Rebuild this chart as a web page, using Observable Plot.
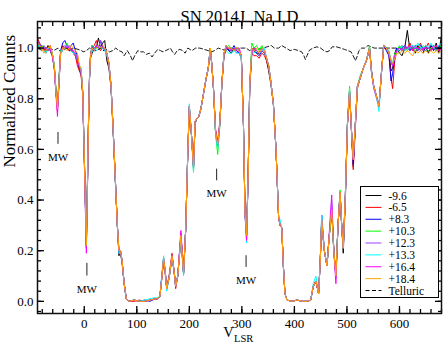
<!DOCTYPE html>
<html><head><meta charset="utf-8">
<script src="https://cdn.jsdelivr.net/npm/d3@7"></script>
<script src="https://cdn.jsdelivr.net/npm/@observablehq/plot@0.6"></script>
<style>
body{margin:0;background:#fff;}
#wrap{position:relative;width:443px;height:346px;font-family:"Liberation Serif",serif;}
#legend{position:absolute;left:360px;top:186px;width:79px;height:112px;box-sizing:border-box;border:1px solid #000;background:#fff;}
</style></head><body><div id="wrap"><div id="legend"></div></div>
<script>
const velocity = [-89,-85,-81,-77,-73,-69,-65,-61,-57,-54,
-51,-48,-45,-41,-37,-33,-29,-25,-21,-17,
-13,-9,-6,-3,0,2,4,6,8,10,
12,15,19,23,27,31,35,39,43,47,
51,55,59,63,66,69,72,76,80,85,
95,105,115,125,135,140,144,148,151,154,
157,162,167,171,174,178,184,189,193,197,
200,204,208,211,214,218,222,227,232,236,
240,243,246,250,254,258,262,266,270,275,
280,285,290,295,299,303,306,309,312,315,
319,323,328,333,338,343,347,351,355,360,
365,370,373,376,379,382,386,395,405,415,
425,431,436,441,446,449,452,457,462,466,
471,475,479,483,487,490,493,497,501,505,
509,512,516,520,525,531,537,543,547,551,
555,561,566,570,575,580,584,587,591,595,
600,605,610,615,620,625,630,635,640,645,
650,655,660,665,670,675,680];

const epochs = ["-9.6","-6.5","+8.3","+10.3","+12.3","+13.3","+16.4","+18.4"];
const epochColors = ["#000000","#ff0000","#0000ff","#00ff00","#a040ff","#00ffff","#ff00ff","#ffa500"];

const fluxM96 = [1.02,1.00,1.01,1.00,0.99,1.01,0.99,0.97,0.92,0.83,
0.77,0.88,0.99,1.00,1.00,1.00,0.99,0.99,0.98,0.97,
0.95,0.91,0.90,0.82,0.58,0.41,0.23,0.46,0.70,0.88,
0.96,0.98,1.00,1.00,1.04,1.00,1.02,1.03,0.95,0.92,
0.84,0.67,0.48,0.30,0.18,0.19,0.15,0.07,0.01,0.00,
0.005,0.00,0.00,0.005,0.01,0.01,0.02,0.10,0.16,0.12,
0.05,0.10,0.18,0.12,0.06,0.10,0.26,0.11,0.28,0.58,
0.76,0.66,0.53,0.70,0.72,0.73,0.76,0.82,0.88,0.92,
1.00,0.93,0.84,0.66,0.61,0.70,0.86,0.97,1.00,0.99,
0.98,1.00,0.99,0.98,0.96,0.70,0.35,0.26,0.50,0.85,
1.00,0.99,0.98,0.98,1.00,0.99,0.95,0.91,0.86,0.78,
0.60,0.33,0.30,0.29,0.14,0.03,0.005,0.00,0.005,0.00,
0.00,0.005,0.06,0.08,0.03,0.15,0.32,0.20,0.14,0.25,
0.36,0.20,0.10,0.30,0.43,0.30,0.19,0.40,0.70,0.83,
0.66,0.53,0.70,0.85,0.88,0.92,0.95,1.00,0.91,0.85,
0.82,0.77,0.91,1.01,1.00,0.98,0.91,0.92,0.98,1.00,
0.98,0.97,1.00,1.07,0.99,1.00,0.98,1.01,0.99,0.98,
1.01,0.98,1.01,0.99,1.02,0.98,1.05];

const fluxM65 = [1.04,1.02,1.00,1.00,0.98,1.00,1.01,0.98,0.93,0.84,
0.75,0.87,0.98,1.01,1.00,1.01,0.99,1.00,0.98,0.97,
0.93,0.91,0.89,0.82,0.57,0.40,0.22,0.45,0.70,0.89,
0.98,1.00,1.01,1.03,1.00,0.99,1.01,1.00,0.97,0.93,
0.85,0.68,0.49,0.30,0.20,0.20,0.16,0.07,0.01,0.00,
0.00,0.005,0.00,0.005,0.01,0.01,0.02,0.10,0.16,0.11,
0.05,0.11,0.19,0.12,0.05,0.10,0.25,0.11,0.28,0.58,
0.76,0.66,0.53,0.71,0.72,0.73,0.76,0.82,0.88,0.92,
0.99,0.93,0.84,0.68,0.63,0.71,0.86,0.97,0.99,1.00,
1.00,0.99,1.00,0.99,0.97,0.70,0.35,0.26,0.50,0.84,
0.98,0.97,0.97,0.96,0.98,0.97,0.95,0.92,0.87,0.78,
0.60,0.33,0.30,0.29,0.14,0.03,0.005,0.00,0.005,0.00,
0.00,0.005,0.06,0.08,0.03,0.15,0.31,0.20,0.14,0.25,
0.36,0.21,0.10,0.30,0.42,0.30,0.21,0.42,0.70,0.82,
0.66,0.52,0.68,0.84,0.88,0.92,0.95,1.00,0.90,0.85,
0.82,0.77,0.91,1.00,1.00,0.97,0.88,0.84,0.95,0.99,
1.00,1.01,0.99,1.00,1.02,0.99,1.01,1.00,1.02,0.99,
1.00,1.02,0.99,1.00,1.01,0.99,1.00];

const fluxP83 = [1.02,1.01,1.01,1.00,1.00,0.99,1.00,0.98,0.93,0.83,
0.76,0.87,0.99,1.02,1.03,1.01,1.00,1.01,1.02,0.99,
0.97,0.92,0.91,0.83,0.58,0.40,0.22,0.45,0.70,0.88,
0.97,1.01,0.99,1.01,1.00,1.03,1.00,0.99,0.98,0.94,
0.85,0.68,0.49,0.30,0.19,0.20,0.16,0.07,0.01,0.00,
0.005,0.00,0.005,0.00,0.01,0.01,0.02,0.11,0.17,0.12,
0.05,0.10,0.17,0.12,0.06,0.10,0.26,0.11,0.28,0.58,
0.77,0.66,0.53,0.71,0.72,0.73,0.76,0.82,0.88,0.92,
1.00,0.93,0.84,0.67,0.62,0.70,0.86,0.98,1.01,0.99,
0.99,1.01,0.99,0.98,0.97,0.70,0.35,0.26,0.50,0.85,
0.99,1.00,0.98,0.97,0.99,0.98,0.96,0.93,0.87,0.78,
0.60,0.33,0.30,0.29,0.14,0.03,0.005,0.00,0.005,0.00,
0.00,0.005,0.06,0.08,0.03,0.15,0.34,0.20,0.14,0.25,
0.36,0.20,0.10,0.30,0.43,0.30,0.21,0.42,0.70,0.83,
0.66,0.54,0.70,0.85,0.88,0.92,0.95,1.00,0.90,0.85,
0.82,0.77,0.91,1.01,0.99,0.97,0.87,0.90,0.97,1.00,
0.99,1.00,1.01,1.00,0.99,1.01,1.00,0.99,1.01,1.00,
0.99,1.00,1.01,1.00,0.99,1.01,1.00];

const fluxP103 = [1.03,1.00,1.01,1.00,1.00,0.99,1.00,0.98,0.93,0.84,
0.77,0.88,0.99,1.00,1.00,1.02,1.00,0.99,0.98,0.98,
0.96,0.93,0.92,0.83,0.58,0.40,0.22,0.45,0.70,0.88,
0.97,1.01,1.00,1.00,1.01,1.00,1.00,1.00,0.98,0.94,
0.85,0.68,0.49,0.30,0.20,0.20,0.16,0.07,0.01,0.00,
0.005,0.00,0.00,0.005,0.01,0.015,0.02,0.10,0.17,0.12,
0.05,0.10,0.18,0.12,0.06,0.10,0.26,0.11,0.28,0.58,
0.77,0.66,0.51,0.71,0.72,0.73,0.76,0.82,0.88,0.92,
1.00,0.93,0.84,0.66,0.58,0.69,0.86,0.98,1.00,1.01,
1.00,0.99,1.00,0.99,0.97,0.70,0.35,0.26,0.50,0.86,
1.02,1.00,1.01,0.99,1.01,0.99,0.96,0.93,0.87,0.78,
0.60,0.33,0.30,0.29,0.14,0.03,0.005,0.00,0.005,0.00,
0.00,0.005,0.06,0.08,0.03,0.15,0.32,0.20,0.14,0.25,
0.36,0.20,0.10,0.30,0.44,0.30,0.21,0.42,0.71,0.85,
0.66,0.57,0.70,0.85,0.89,0.92,0.95,1.01,0.90,0.85,
0.82,0.77,0.91,1.01,1.00,0.99,0.95,0.94,0.98,0.99,
1.01,0.99,1.00,0.99,1.01,1.00,0.99,1.00,1.00,1.01,
1.00,0.99,1.00,1.01,0.99,1.00,1.01];

const fluxP123 = [1.01,1.02,0.99,1.01,1.00,1.00,0.99,0.98,0.92,0.83,
0.76,0.87,0.98,1.00,1.01,1.00,1.01,1.00,0.99,0.97,
0.95,0.93,0.91,0.83,0.58,0.40,0.21,0.45,0.70,0.88,
0.97,1.00,0.99,1.01,1.00,1.03,1.01,1.00,0.98,0.94,
0.85,0.68,0.49,0.30,0.20,0.20,0.16,0.07,0.01,0.00,
0.005,0.00,0.00,0.005,0.01,0.01,0.02,0.10,0.17,0.12,
0.05,0.10,0.18,0.12,0.06,0.10,0.27,0.11,0.28,0.58,
0.77,0.66,0.52,0.71,0.72,0.73,0.76,0.82,0.88,0.92,
1.00,0.93,0.84,0.67,0.61,0.70,0.86,0.98,1.00,1.00,
0.99,1.00,0.98,0.99,0.97,0.70,0.35,0.25,0.50,0.85,
0.99,1.00,0.99,0.98,1.00,0.99,0.96,0.93,0.87,0.78,
0.60,0.33,0.30,0.29,0.14,0.03,0.005,0.00,0.005,0.00,
0.00,0.005,0.06,0.08,0.03,0.15,0.32,0.20,0.14,0.25,
0.38,0.20,0.09,0.30,0.43,0.30,0.21,0.42,0.70,0.83,
0.66,0.56,0.70,0.85,0.88,0.92,0.95,1.00,0.90,0.84,
0.81,0.77,0.91,1.01,1.00,0.98,0.94,0.93,0.97,0.99,
1.00,0.99,1.01,1.00,0.99,1.00,1.01,0.99,1.00,0.99,
1.01,1.00,0.99,1.00,1.01,1.00,0.99];

const fluxP133 = [1.02,1.00,1.00,0.99,0.98,1.00,1.00,0.98,0.93,0.83,
0.76,0.87,0.98,0.99,1.00,1.01,1.00,0.99,0.98,0.98,
0.96,0.93,0.91,0.83,0.57,0.39,0.21,0.44,0.70,0.88,
0.96,0.99,1.00,0.99,1.00,1.01,1.00,0.99,0.97,0.94,
0.85,0.68,0.49,0.30,0.19,0.20,0.16,0.07,0.01,0.00,
0.005,0.00,0.005,0.01,0.015,0.01,0.02,0.11,0.18,0.12,
0.04,0.10,0.17,0.12,0.06,0.10,0.25,0.10,0.28,0.59,
0.78,0.66,0.51,0.71,0.72,0.73,0.76,0.82,0.88,0.92,
1.00,0.93,0.84,0.66,0.60,0.70,0.86,0.98,0.99,0.98,
0.98,0.99,0.98,0.98,0.96,0.70,0.34,0.23,0.50,0.85,
0.99,0.98,0.99,0.98,0.99,1.00,0.96,0.93,0.87,0.78,
0.60,0.34,0.32,0.29,0.14,0.03,0.005,0.00,0.005,0.00,
0.00,0.005,0.07,0.10,0.03,0.15,0.34,0.20,0.14,0.25,
0.40,0.20,0.10,0.30,0.43,0.30,0.21,0.42,0.70,0.84,
0.66,0.57,0.70,0.85,0.88,0.92,0.95,1.00,0.90,0.85,
0.82,0.75,0.91,1.01,1.00,0.98,0.95,0.93,0.97,0.98,
1.00,1.01,0.99,1.00,1.00,1.01,1.00,1.02,1.00,1.00,
1.01,1.00,1.02,1.00,1.00,1.01,1.02];

const fluxP164 = [1.03,1.01,1.00,1.00,1.00,0.99,1.00,0.97,0.92,0.82,
0.73,0.86,0.98,1.00,1.00,1.01,1.00,0.99,0.99,0.98,
0.96,0.92,0.91,0.82,0.56,0.37,0.19,0.43,0.69,0.88,
0.97,1.00,1.00,1.01,1.00,1.01,1.00,1.00,0.98,0.94,
0.85,0.68,0.49,0.30,0.20,0.20,0.16,0.07,0.01,0.00,
0.005,0.00,0.00,0.005,0.01,0.01,0.02,0.10,0.17,0.12,
0.05,0.10,0.18,0.12,0.06,0.10,0.28,0.11,0.28,0.58,
0.77,0.66,0.53,0.71,0.72,0.73,0.76,0.82,0.88,0.92,
1.00,0.93,0.84,0.67,0.62,0.70,0.86,0.98,1.00,1.00,
0.99,1.00,0.99,1.00,0.97,0.70,0.34,0.24,0.50,0.85,
0.98,1.00,0.99,0.98,1.00,0.99,0.96,0.93,0.87,0.78,
0.60,0.33,0.30,0.29,0.14,0.03,0.005,0.00,0.005,0.00,
0.00,0.005,0.06,0.08,0.03,0.15,0.32,0.20,0.14,0.26,
0.42,0.20,0.07,0.30,0.43,0.30,0.21,0.42,0.70,0.83,
0.66,0.56,0.70,0.85,0.88,0.92,0.95,1.00,0.90,0.85,
0.82,0.77,0.91,1.01,1.00,0.98,0.95,0.93,0.97,0.99,
1.00,0.99,1.00,1.00,1.01,0.99,1.00,1.00,0.99,1.00,
1.00,1.00,0.99,1.01,1.00,0.99,1.00];

const fluxP184 = [1.02,1.01,1.00,0.98,0.99,1.00,1.01,0.98,0.93,0.83,
0.76,0.87,0.98,1.00,1.00,0.99,1.00,1.01,1.00,0.99,
0.98,0.93,0.92,0.83,0.58,0.40,0.22,0.45,0.70,0.88,
0.97,1.00,0.99,1.00,1.01,1.00,1.01,1.00,0.98,0.94,
0.85,0.68,0.49,0.30,0.20,0.20,0.16,0.07,0.01,0.00,
0.005,0.00,0.00,0.005,0.01,0.01,0.02,0.10,0.17,0.12,
0.05,0.10,0.18,0.12,0.06,0.10,0.26,0.11,0.28,0.58,
0.77,0.66,0.53,0.71,0.72,0.73,0.76,0.82,0.88,0.92,
1.00,0.93,0.84,0.67,0.62,0.70,0.86,0.98,1.01,1.00,
1.00,0.99,1.00,0.99,0.97,0.70,0.35,0.26,0.50,0.85,
1.00,0.99,1.00,0.98,1.00,0.99,0.96,0.93,0.87,0.78,
0.60,0.33,0.30,0.29,0.14,0.03,0.005,0.00,0.005,0.00,
0.00,0.005,0.06,0.08,0.03,0.15,0.32,0.20,0.14,0.25,
0.36,0.20,0.10,0.30,0.43,0.30,0.21,0.42,0.70,0.83,
0.66,0.56,0.70,0.85,0.88,0.92,0.95,1.00,0.90,0.85,
0.82,0.77,0.91,1.01,1.00,0.98,0.95,0.94,0.96,0.98,
0.98,0.99,0.98,0.99,0.98,0.97,0.99,0.98,0.99,0.98,
0.99,0.98,0.99,0.98,0.99,0.98,0.99];

const telluricVelocity = [-89,-80,-72,-65,-58,-50,-45,-40,-34,-28,-20,-12,-5,-2,4,10,18,25,30,36,42,48,54,60,66,72,76,82,88,92,96,102,108,113,118,124,129,134,140,145,150,155,160,164,168,172,177,182,187,192,197,205,212,220,228,236,242,248,255,262,270,278,285,292,300,308,315,322,330,340,348,356,362,370,376,384,392,400,408,414,418,421,424,428,435,443,450,456,462,467,472,480,488,495,502,508,513,516,519,523,528,534,540,546,552,560,580,600,620,640,660,680];
const telluricFlux = [1.00,0.99,1.00,1.00,0.99,1.00,0.985,0.99,1.00,0.99,1.00,0.995,0.99,0.985,0.99,1.00,0.99,0.99,1.00,0.99,0.995,0.985,0.99,1.00,0.99,0.985,0.97,0.99,0.97,0.95,0.97,0.99,0.985,0.985,0.975,0.98,0.965,0.98,0.995,0.99,0.985,0.99,0.995,1.00,0.985,0.975,0.99,0.995,0.99,0.98,1.00,0.99,1.00,1.00,0.995,0.99,0.985,0.99,1.00,0.995,0.99,1.00,0.995,1.00,1.00,1.00,0.99,1.00,0.995,1.00,1.005,1.01,1.00,1.00,1.01,1.00,0.99,0.995,0.99,0.985,0.97,0.955,0.97,0.99,1.00,1.005,1.00,0.99,0.985,0.99,1.005,1.005,1.00,0.995,0.99,0.985,0.965,0.95,0.965,0.99,1.00,1.00,1.01,1.005,1.00,1.00,1.00,1.00,1.00,1.00,1.00,1.00];

const xMajorTicks = [0,100,200,300,400,500,600];
const xMinorTicks = [-80,-60,-40,-20,0,20,40,60,80,100,120,140,160,180,200,220,240,260,280,300,320,340,360,380,400,420,440,460,480,500,520,540,560,580,600,620,640,660,680];
const yMajorTicks = [0,0.2,0.4,0.6,0.8,1.0];
const yMinorTicks = [-0.04,0,0.04,0.08,0.12,0.16,0.2,0.24,0.28,0.32,0.36,0.4,0.44,0.48,0.52,0.56,0.6,0.64,0.68,0.72,0.76,0.8,0.84,0.88,0.92,0.96,1.0,1.04,1.08];

const mwVelocity = [-50, 5, 252, 308];
const mwTickLow = [0.62, 0.10, 0.476, 0.134];
const mwTickHigh = [0.667, 0.15, 0.522, 0.18];
const mwLabelY = [0.57, 0.046, 0.427, 0.082];

const titleText = "SN 2014J\u00a0 Na I D";
const yLabel = "Normalized Counts";
const legendLabels = [...epochs, "Telluric"];

const seriesList = [fluxM96, fluxM65, fluxP83, fluxP103, fluxP123, fluxP133, fluxP164, fluxP184];
const rows = [];
seriesList.forEach((s, k) => {
  if (s.length !== velocity.length) console.error("length mismatch", epochs[k], s.length);
  s.forEach((f, i) => rows.push({v: velocity[i], f, epoch: epochs[k]}));
});
const tellRows = telluricVelocity.map((v, i) => ({v, f: telluricFlux[i]}));
const mwRows = mwVelocity.map((v, i) => ({v, lo: mwTickLow[i], hi: mwTickHigh[i], ly: mwLabelY[i], t: "MW"}));

const font = "Liberation Serif";
const plot = Plot.plot({
  width: 443, height: 346,
  marginLeft: 37, marginRight: 2, marginTop: 21, marginBottom: 33,
  style: {fontFamily: font, fontSize: "13px", color: "#000", background: "#fff"},
  x: {domain: [-89, 680]},
  y: {domain: [-0.048, 1.105]},
  color: {domain: epochs, range: epochColors},
  marks: [
    Plot.line(tellRows, {x: "v", y: "f", stroke: "#000", strokeWidth: 0.9, strokeDasharray: "4,2.5"}),
    Plot.line(rows, {x: "v", y: "f", z: "epoch", stroke: "epoch", strokeWidth: 1}),
    Plot.ruleX(mwRows, {x: "v", y1: "lo", y2: "hi", stroke: "#222", strokeWidth: 1}),
    Plot.text(mwRows, {x: "v", y: "ly", text: "t", fontSize: 11, fill: "#000"}),
    Plot.axisX(xMinorTicks, {anchor: "bottom", tickSize: -4, tickFormat: () => "", label: null, strokeWidth: 1.3}),
    Plot.axisX(xMajorTicks, {anchor: "bottom", tickSize: -7, tickFormat: () => "", label: null, strokeWidth: 1.3}),
    Plot.axisX(xMinorTicks, {anchor: "top", tickSize: -4, tickFormat: () => "", label: null, strokeWidth: 1.3}),
    Plot.axisX(xMajorTicks, {anchor: "top", tickSize: -7, tickFormat: () => "", label: null, strokeWidth: 1.3}),
    Plot.axisY(yMinorTicks, {anchor: "left", tickSize: -4, tickFormat: () => "", label: null, strokeWidth: 1.3}),
    Plot.axisY(yMajorTicks, {anchor: "left", tickSize: -7, tickFormat: () => "", label: null, strokeWidth: 1.3}),
    Plot.axisY(yMinorTicks, {anchor: "right", tickSize: -4, tickFormat: () => "", label: null, strokeWidth: 1.3}),
    Plot.axisY(yMajorTicks, {anchor: "right", tickSize: -7, tickFormat: () => "", label: null, strokeWidth: 1.3}),
    Plot.axisX(xMajorTicks, {anchor: "bottom", tickSize: 0, tickPadding: 5, label: null, fontSize: 13, tickFormat: d3.format("d")}),
    Plot.axisY(yMajorTicks, {anchor: "left", tickSize: 0, tickPadding: 4, label: null, fontSize: 13, tickFormat: d3.format(".1f")}),
    Plot.frame({stroke: "#111", strokeWidth: 1.5}),
    Plot.text([titleText], {frameAnchor: "top", dy: -11, fontSize: 16.5, text: d => d}),
    Plot.text([yLabel], {frameAnchor: "left", dx: -28, rotate: -90, fontSize: 17, text: d => d}),
    Plot.text(["V"], {frameAnchor: "bottom", dx: -11, dy: 23.5, fontSize: 14.5, text: d => d}),
    Plot.text(["LSR"], {frameAnchor: "bottom", textAnchor: "start", dx: -5.5, dy: 28.5, fontSize: 10.5, text: d => d})
  ]
});
const wrap = document.getElementById("wrap");
wrap.insertBefore(plot, wrap.firstChild);

// legend
const legendColors = [...epochColors, "#000"];
const lg = d3.select("#legend").append("svg").attr("width", 77).attr("height", 110)
  .style("font-family", font).style("font-size", "11.5px");
legendLabels.forEach((lab, i) => {
  const y = 8.5 + i * 11.875;
  lg.append("line").attr("x1", 4.5).attr("x2", 20.5).attr("y1", y).attr("y2", y)
    .attr("stroke", legendColors[i]).attr("stroke-width", 1)
    .attr("stroke-dasharray", lab === "Telluric" ? "4,2.5" : null);
  lg.append("text").attr("x", 27.5).attr("y", y).attr("dy", "0.35em").attr("fill", "#000").text(lab);
});
</script></body></html>
